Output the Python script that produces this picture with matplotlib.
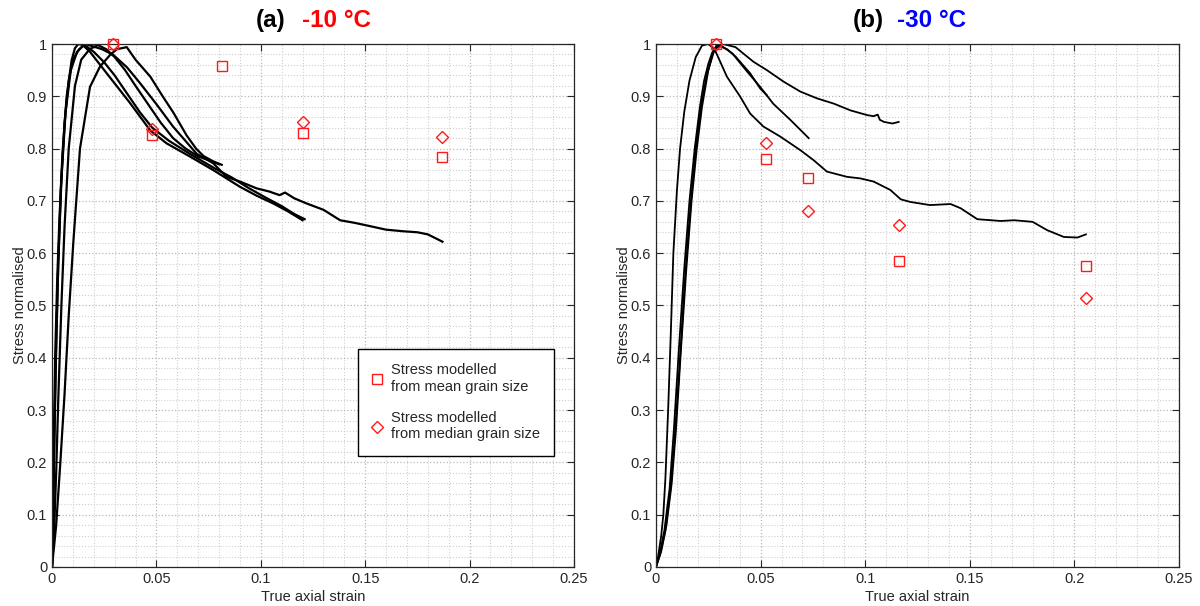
import matplotlib
matplotlib.use("Agg")
import matplotlib.pyplot as plt
from matplotlib.ticker import MultipleLocator, FormatStrFormatter
from matplotlib.lines import Line2D

plt.rcParams['font.family'] = ['Liberation Sans', 'DejaVu Sans']

# ---- panel (a) -10 C : measured curves ----
a1_strain = [0, 0.002, 0.004, 0.006, 0.008, 0.0102, 0.0134, 0.0182, 0.023, 0.0278, 0.031, 0.0358,
             0.040, 0.0471, 0.053, 0.0581, 0.0645, 0.069, 0.0725, 0.077, 0.0813]
a1_stress = [0, 0.08, 0.2, 0.33, 0.48, 0.62, 0.80, 0.918, 0.957, 0.979, 0.99, 0.994,
             0.97, 0.9375, 0.90, 0.869, 0.825, 0.80, 0.786, 0.776, 0.769]

a2_strain = [0, 0.0005, 0.001, 0.0016, 0.0022, 0.003, 0.0042, 0.006, 0.008, 0.010, 0.013, 0.016,
             0.020, 0.024, 0.0294, 0.036, 0.0422, 0.050, 0.058, 0.0693, 0.0772, 0.0836, 0.090,
             0.098, 0.104, 0.109, 0.1116, 0.116, 0.122, 0.130, 0.138, 0.145, 0.152, 0.16, 0.168,
             0.175, 0.18, 0.184, 0.187]
a2_stress = [0, 0.1, 0.22, 0.35, 0.46, 0.58, 0.72, 0.85, 0.93, 0.97, 0.99, 1.0,
             0.995, 0.99, 0.979, 0.955, 0.925, 0.885, 0.842, 0.79, 0.772, 0.746, 0.737,
             0.724, 0.718, 0.711, 0.716, 0.705, 0.695, 0.683, 0.663, 0.658, 0.652, 0.645, 0.642,
             0.64, 0.636, 0.628, 0.622]

a3_strain = [0, 0.0006, 0.0012, 0.002, 0.003, 0.0045, 0.0065, 0.009, 0.012, 0.015, 0.0182, 0.0262,
             0.0374, 0.047, 0.0549, 0.066, 0.0772, 0.090, 0.098, 0.106, 0.113, 0.120]
a3_stress = [0, 0.12, 0.26, 0.42, 0.58, 0.74, 0.87, 0.95, 0.985, 0.997, 0.985, 0.944,
             0.887, 0.835, 0.81, 0.785, 0.759, 0.727, 0.71, 0.695, 0.68, 0.663]

a4_strain = [0, 0.0004, 0.0009, 0.0015, 0.0025, 0.0035, 0.005, 0.007, 0.0094, 0.011, 0.0126, 0.016,
             0.020, 0.025, 0.030, 0.036, 0.042, 0.048, 0.056, 0.066, 0.078, 0.086, 0.094, 0.102,
             0.110, 0.116, 0.121]
a4_stress = [0, 0.1, 0.25, 0.4, 0.55, 0.66, 0.79, 0.899, 0.969, 0.992, 1.0, 0.997,
             0.985, 0.965, 0.94, 0.905, 0.87, 0.84, 0.815, 0.79, 0.762, 0.745, 0.725, 0.707,
             0.69, 0.675, 0.665]

a5_strain = [0, 0.001, 0.002, 0.003, 0.0045, 0.006, 0.008, 0.011, 0.014, 0.018, 0.022, 0.026,
             0.030, 0.035, 0.040, 0.046, 0.052, 0.058, 0.064, 0.070, 0.075, 0.080]
a5_stress = [0, 0.07, 0.18, 0.32, 0.5, 0.65, 0.8, 0.92, 0.97, 0.99, 0.998, 0.99,
             0.975, 0.95, 0.92, 0.885, 0.85, 0.82, 0.8, 0.785, 0.778, 0.77]

# ---- panel (a) modelled points ----
a_sq_strain = [0.029, 0.0477, 0.0816, 0.120, 0.187]
a_sq_stress = [1.0, 0.826, 0.9586, 0.829, 0.783]
a_di_strain = [0.029, 0.0477, 0.120, 0.187]
a_di_stress = [1.0, 0.8375, 0.851, 0.823]

# ---- panel (b) -30 C : measured curves ----
b1_strain = [0, 0.001, 0.0025, 0.0035, 0.0045, 0.0058, 0.0071, 0.0083, 0.010, 0.0115, 0.0135, 0.016,
             0.019, 0.022, 0.025, 0.028, 0.0339, 0.0403, 0.045, 0.0514, 0.0594, 0.069, 0.0753,
             0.0817, 0.0913, 0.0977, 0.104, 0.112, 0.117, 0.1216, 0.131, 0.1408, 0.1456, 0.1536,
             0.1648, 0.1712, 0.180, 0.187, 0.195, 0.2015, 0.2055]
b1_stress = [0, 0.02, 0.06, 0.1, 0.17, 0.3, 0.45, 0.6, 0.72, 0.8, 0.87, 0.93,
             0.975, 0.997, 1.0, 0.99, 0.9375, 0.899, 0.867, 0.842, 0.823, 0.797, 0.778,
             0.756, 0.746, 0.743, 0.737, 0.721, 0.703, 0.698, 0.692, 0.694, 0.686, 0.665,
             0.6616, 0.663, 0.660, 0.644, 0.631, 0.630, 0.636]

b2_strain = [0, 0.002, 0.004, 0.0065, 0.0085, 0.011, 0.0135, 0.016, 0.0185, 0.021, 0.023, 0.025,
             0.027, 0.029, 0.030, 0.0365, 0.043, 0.0498, 0.056, 0.0642, 0.073]
b2_stress = [0, 0.03, 0.07, 0.15, 0.26, 0.42, 0.57, 0.7, 0.8, 0.88, 0.93, 0.962,
             0.985, 0.997, 1.0, 0.982, 0.95, 0.918, 0.886, 0.855, 0.82]

b3_strain = [0, 0.002, 0.0045, 0.007, 0.009, 0.0115, 0.014, 0.0165, 0.019, 0.0215, 0.024, 0.027,
             0.029, 0.031, 0.034, 0.038, 0.045, 0.0498, 0.053]
b3_stress = [0, 0.025, 0.07, 0.15, 0.25, 0.4, 0.56, 0.69, 0.8, 0.88, 0.935, 0.98,
             0.997, 0.995, 0.99, 0.976, 0.944, 0.915, 0.902]

b4_strain = [0, 0.0025, 0.005, 0.0075, 0.0095, 0.012, 0.0145, 0.017, 0.0195, 0.022, 0.025, 0.028,
             0.032, 0.038, 0.0466, 0.053, 0.061, 0.069, 0.077, 0.085, 0.093, 0.101,
             0.104, 0.106, 0.107, 0.109, 0.113, 0.116]
b4_stress = [0, 0.03, 0.08, 0.16, 0.26, 0.42, 0.57, 0.7, 0.8, 0.88, 0.95, 0.99,
             1.0, 0.994, 0.966, 0.95, 0.928, 0.909, 0.896, 0.886, 0.873, 0.864,
             0.862, 0.865, 0.855, 0.851, 0.848, 0.851]

# ---- panel (b) modelled points ----
b_sq_strain = [0.0287, 0.0527, 0.0726, 0.116, 0.2055]
b_sq_stress = [1.0, 0.781, 0.744, 0.585, 0.5755]
b_di_strain = [0.0287, 0.0527, 0.0726, 0.116, 0.2055]
b_di_stress = [1.0, 0.811, 0.680, 0.654, 0.514]

RED = '#ff1a1a'

fig = plt.figure(figsize=(12, 6.06), dpi=100)
ax_a = fig.add_axes([52 / 1200, 39 / 606, 522 / 1200, 523 / 606])
ax_b = fig.add_axes([656 / 1200, 39 / 606, 523 / 1200, 523 / 606])


def style_axes(ax):
    ax.set_xlim(0, 0.25)
    ax.set_ylim(0, 1)
    ax.xaxis.set_major_locator(MultipleLocator(0.05))
    ax.xaxis.set_minor_locator(MultipleLocator(0.01))
    ax.yaxis.set_major_locator(MultipleLocator(0.1))
    ax.yaxis.set_minor_locator(MultipleLocator(0.02))
    ax.xaxis.set_major_formatter(FormatStrFormatter('%g'))
    ax.yaxis.set_major_formatter(FormatStrFormatter('%g'))
    ax.grid(True, which='major', linestyle=':', color='#b8b8b8', linewidth=0.9)
    ax.grid(True, which='minor', linestyle=':', color='#cfcfcf', linewidth=0.8)
    ax.set_axisbelow(True)
    ax.tick_params(which='major', direction='in', top=True, right=True, length=5,
                   width=0.8, color='#262626', labelsize=10.5, labelcolor='#262626')
    ax.tick_params(which='minor', length=0)
    for s in ax.spines.values():
        s.set_color('#262626')
        s.set_linewidth(0.9)
    ax.set_xlabel('True axial strain', fontsize=10.5, color='#262626', labelpad=3)
    ax.set_ylabel('Stress normalised', fontsize=10.5, color='#262626', labelpad=0)


for ax in (ax_a, ax_b):
    style_axes(ax)

for xs, ys in [(a1_strain, a1_stress), (a2_strain, a2_stress), (a3_strain, a3_stress),
               (a4_strain, a4_stress), (a5_strain, a5_stress)]:
    ax_a.plot(xs, ys, color='black', linewidth=1.6)

for xs, ys in [(b1_strain, b1_stress), (b2_strain, b2_stress), (b3_strain, b3_stress),
               (b4_strain, b4_stress)]:
    ax_b.plot(xs, ys, color='black', linewidth=1.3)

for ax, sx, sy, dx, dy in [(ax_a, a_sq_strain, a_sq_stress, a_di_strain, a_di_stress),
                           (ax_b, b_sq_strain, b_sq_stress, b_di_strain, b_di_stress)]:
    ax.plot(sx, sy, linestyle='none', marker='s', markersize=7, markerfacecolor='none',
            markeredgecolor=RED, markeredgewidth=1.0, zorder=5, clip_on=False)
    ax.plot(dx, dy, linestyle='none', marker='D', markersize=6.5, markerfacecolor='none',
            markeredgecolor=RED, markeredgewidth=1.0, zorder=5, clip_on=False)

# titles with two colours
title_kw = dict(va='center', fontsize=17.5, fontweight='bold')
ax_a.text(0.447, 1.044, '(a)', transform=ax_a.transAxes, ha='right', color='black', **title_kw)
ax_a.text(0.478, 1.044, '-10 °C', transform=ax_a.transAxes, ha='left', color='#ff0000', **title_kw)
ax_b.text(0.435, 1.044, '(b)', transform=ax_b.transAxes, ha='right', color='black', **title_kw)
ax_b.text(0.461, 1.044, '-30 °C', transform=ax_b.transAxes, ha='left', color='#0000ff', **title_kw)

handles = [Line2D([], [], linestyle='none', marker='s', markersize=7, markerfacecolor='none',
                  markeredgecolor=RED, markeredgewidth=1.0),
           Line2D([], [], linestyle='none', marker='D', markersize=6.5, markerfacecolor='none',
                  markeredgecolor=RED, markeredgewidth=1.0)]
labels = ['Stress modelled\nfrom mean grain size', 'Stress modelled\nfrom median grain size']
leg = ax_a.legend(handles, labels, loc='upper right', bbox_to_anchor=(0.962, 0.417),
                  fontsize=10.5, frameon=True, fancybox=False, framealpha=1,
                  edgecolor='black', borderpad=1.0, handlelength=0.6, handletextpad=0.6,
                  labelspacing=1.2, borderaxespad=0)
leg.get_frame().set_linewidth(1.0)
for t in leg.get_texts():
    t.set_color('#262626')

fig.savefig('out.png', dpi=100)
